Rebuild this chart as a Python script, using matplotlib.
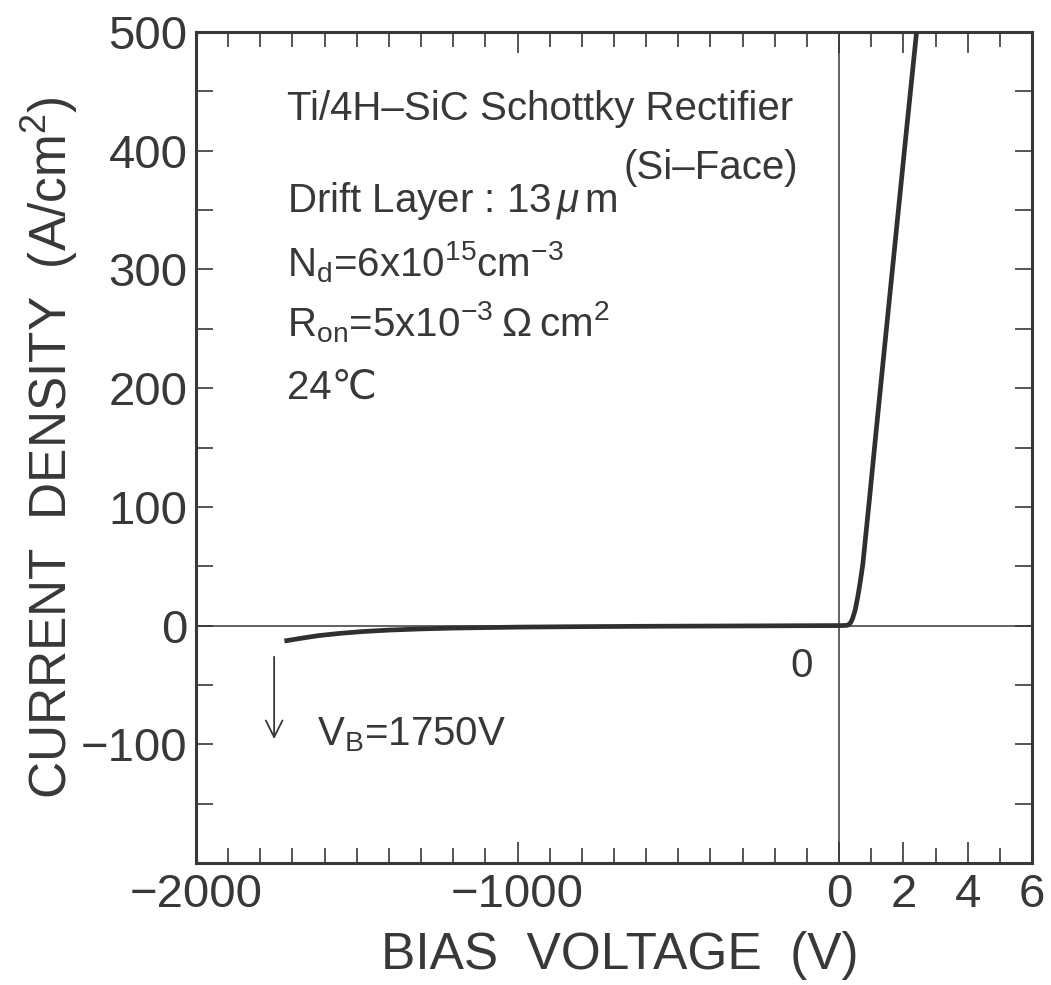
import numpy as np
import matplotlib
matplotlib.use("Agg")
import matplotlib.pyplot as plt

plt.rcParams['font.family'] = ['Liberation Sans', 'DejaVu Sans']
plt.rcParams['mathtext.fontset'] = 'custom'
plt.rcParams['mathtext.rm'] = 'Liberation Sans'
plt.rcParams['mathtext.it'] = 'Liberation Sans:italic'

# I-V curve (V in volts, J in A/cm2)
reverse_v = [-1725, -1680, -1620, -1550, -1480, -1400, -1300, -1200, -1000, -800, -600, -300, 0]
reverse_j = [-13, -11, -8.5, -6.5, -5, -3.8, -2.8, -2.1, -1.3, -0.9, -0.6, -0.3, 0]
forward_v = [0.1, 0.25, 0.3, 0.36, 0.42, 0.5, 0.58, 0.66, 0.74, 0.95, 1.15, 1.45, 1.7, 2.05, 2.41]
forward_j = [0, 0.2, 0.8, 2.5, 6, 13, 24, 37, 52, 108, 163, 244, 311, 405, 500]

x_major = [-2000, -1000, 0, 2, 4, 6]
x_labels = ['\u22122000', '\u22121000', '0', '2', '4', '6']
x_minor = list(range(-1900, 0, 100)) + [1, 3, 5]
y_major = list(range(-200, 501, 100))
y_labels = ['', '\u2212100', '0', '100', '200', '300', '400', '500']
y_minor = list(range(-150, 500, 100))

ink = '#383838'


def fwd(x):
    x = np.asarray(x, dtype=float)
    return np.where(x < 0, x / 100.0, x)


def inv(u):
    u = np.asarray(u, dtype=float)
    return np.where(u < 0, u * 100.0, u)


fig = plt.figure(figsize=(10.51, 9.85), dpi=100)
ax = fig.add_axes([196 / 1051, 1 - 863 / 985, 836 / 1051, 831 / 985])
ax.set_xscale('function', functions=(fwd, inv))
ax.set_xlim(-2000, 6)
ax.set_ylim(-200, 500)

ax.axhline(0, color=ink, lw=1.1, zorder=1)
ax.axvline(0, color=ink, lw=1.1, zorder=1)

vv = reverse_v + forward_v
jj = reverse_j + forward_j
ax.plot(vv, jj, color='#303030', lw=3.4, solid_capstyle='butt', solid_joinstyle='round', zorder=3)

ax.set_xticks(x_major)
ax.set_xticklabels(x_labels)
ax.set_xticks(x_minor, minor=True)
ax.set_yticks(y_major)
ax.set_yticklabels(y_labels)
ax.set_yticks(y_minor, minor=True)

ax.tick_params(which='both', direction='in', top=True, right=True,
               color=ink, width=1.2, labelcolor=ink, labelsize=34)
ax.tick_params(axis='x', which='major', length=15, pad=7)
ax.tick_params(axis='x', which='minor', length=11)
ax.tick_params(axis='y', which='both', length=12, pad=6)
for sp in ax.spines.values():
    sp.set_linewidth(2.2)
    sp.set_color(ink)

ax.set_xlabel('BIAS  VOLTAGE  (V)', fontsize=37, color=ink, va='center')
ax.set_ylabel('CURRENT  DENSITY  (A/cm$^{\\mathregular{2}}$)', fontsize=37, color=ink, va='center')
ax.xaxis.set_label_coords(0.507, -0.111)
ax.yaxis.set_label_coords(-0.175, 0.5)

fs = 29
ax.text(-1717, 426, 'Ti/4H\u2013SiC Schottky Rectifier', fontsize=fs, color=ink, ha='left', va='baseline')
ax.text(-128, 376, '(Si\u2013Face)', fontsize=fs, color=ink, ha='right', va='baseline')
ax.text(-1717, 348, 'Drift Layer : 13$\\,\\mu\\,$m', fontsize=fs, color=ink, ha='left', va='baseline')
ax.text(-1717, 294, 'N$_{\\mathregular{d}}$=6x10$^{\\mathregular{15}}$cm$^{\\mathregular{-3}}$',
        fontsize=fs, color=ink, ha='left', va='baseline')
ax.text(-1717, 244, 'R$_{\\mathregular{on}}$=5x10$^{\\mathregular{-3}}$\u2009\u03a9\u2009cm$^{\\mathregular{2}}$',
        fontsize=fs, color=ink, ha='left', va='baseline')
ax.text(-1717, 191, '24\u2103', fontsize=fs, color=ink, ha='left', va='baseline')
ax.text(-1623, -101, 'V$_{\\mathregular{B}}$=1750V', fontsize=fs, color=ink, ha='left', va='baseline')
ax.text(-115, -43, '0', fontsize=fs, color=ink, ha='center', va='baseline')

ax.annotate('', xy=(-1757, -98), xytext=(-1757, -24),
            arrowprops=dict(arrowstyle='->', color=ink, lw=1.3, mutation_scale=30))

fig.savefig('out.png', dpi=100, facecolor='white')
